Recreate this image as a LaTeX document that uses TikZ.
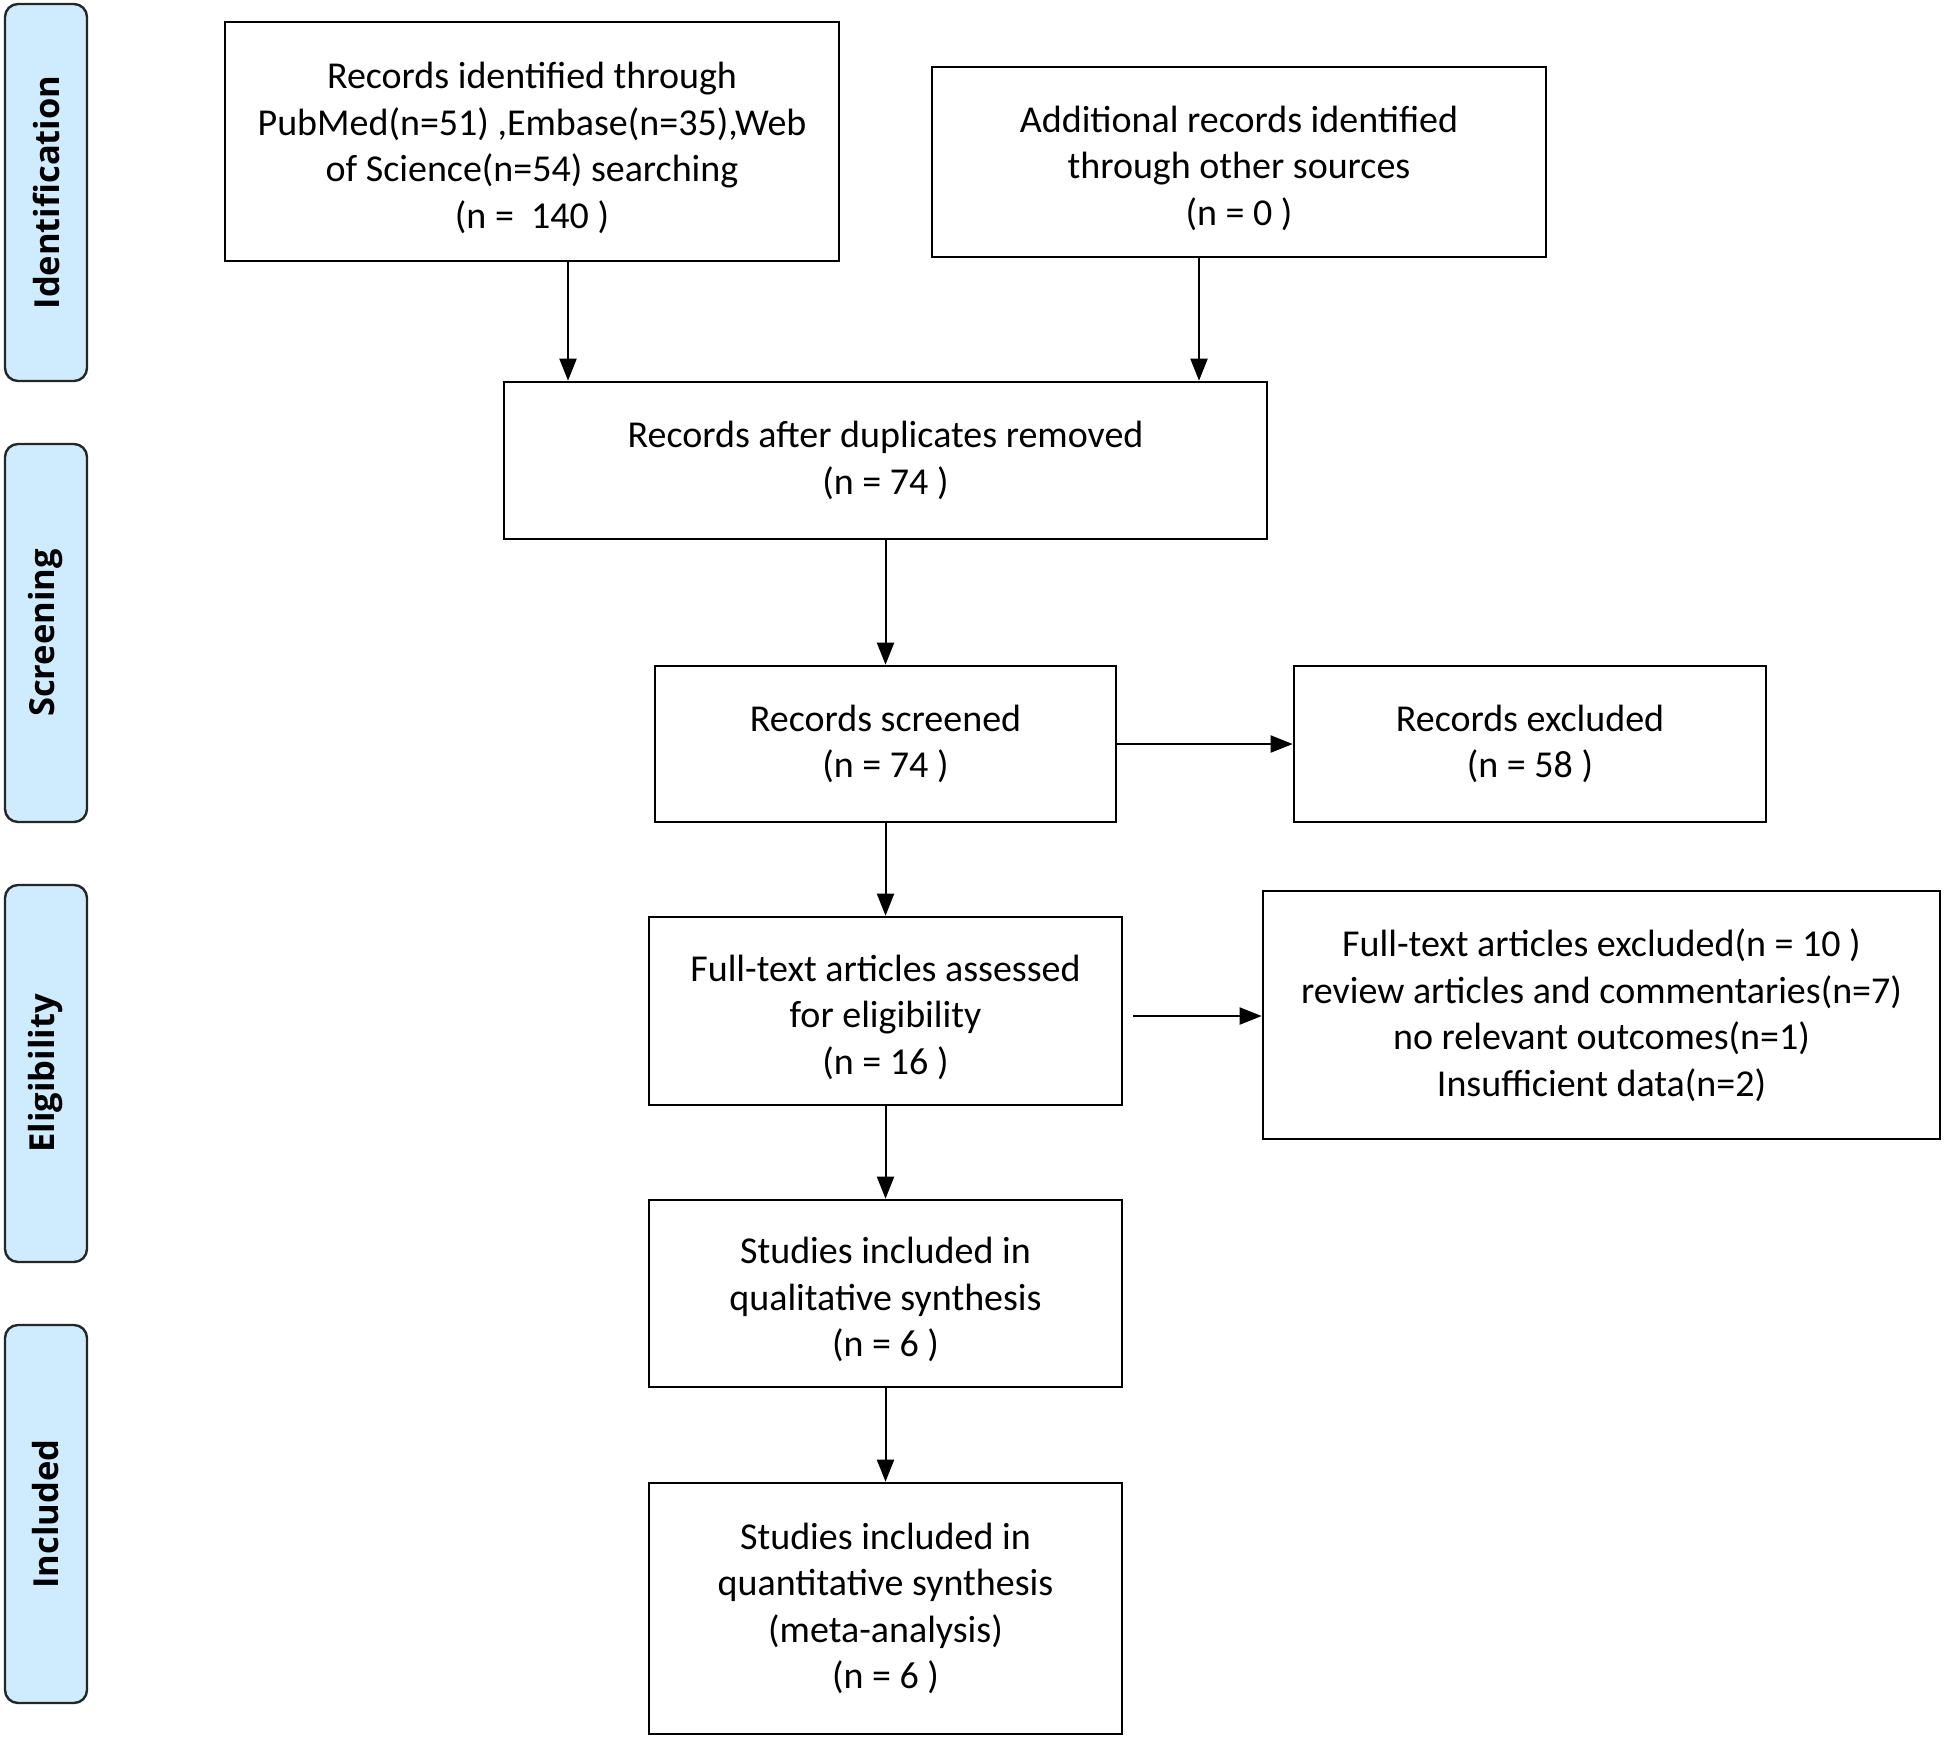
\documentclass[tikz,border=0pt]{standalone}
\usepackage{fontspec}
\setmainfont{Carlito}
\newfontfamily\sidefont{Open Sans}
\usetikzlibrary{arrows.meta}
\definecolor{barblue}{RGB}{206,236,254}
\newcommand\dnstrut{\rule{0pt}{39pt}}
\begin{document}
\begin{tikzpicture}[x=1pt,y=-1pt,
  box/.style={draw=black,line width=2.6pt,fill=white,align=center,inner sep=0pt,
    font=\fontsize{38}{46.5}\selectfont},
  bar/.style={draw=black!85,line width=2.4pt,fill=barblue,rounded corners=13pt,rotate=90,
    minimum height=82pt,inner sep=0pt,font=\sidefont\bfseries\fontsize{34.5}{40}\selectfont},
  arr/.style={line width=2pt,-{Triangle[length=22pt,width=17pt]}}]
\useasboundingbox (0,0) rectangle (1946,1740);
\fill[white] (0,0) rectangle (1946,1740);

% phase bars
\node[bar,minimum width=377pt] (pid) at (46,192.5) {Identification};
\node[bar,minimum width=378pt] (psc) at (46,633) {Screening};
\node[bar,minimum width=377pt] (pel) at (46,1073.5) {Eligibility};
\node[bar,minimum width=378pt] (pin) at (46,1514) {Included};

% boxes
\node[box,minimum width=614pt,minimum height=239pt] (b1) at (532,141.5)
  {\dnstrut Records identified through\\PubMed(n=51) ,Embase(n=35),Web\\of Science(n=54) searching\\(n =\ \ 140 )};
\node[box,minimum width=614pt,minimum height=190pt] (b2) at (1239,162)
  {\dnstrut Additional records identified\\through other sources\\(n = 0 )};
\node[box,minimum width=763pt,minimum height=157pt] (b3) at (885.5,460.5)
  {Records after duplicates removed\\(n = 74 )};
\node[box,minimum width=461pt,minimum height=156pt] (b4) at (885.5,744)
  {Records screened\\(n = 74 )};
\node[box,minimum width=472pt,minimum height=156pt] (b5) at (1530,744)
  {Records excluded\\(n = 58 )};
\node[box,minimum width=473pt,minimum height=188pt] (b6) at (885.5,1011)
  {\dnstrut Full-text articles assessed\\for eligibility\\(n = 16 )};
\node[box,minimum width=677pt,minimum height=248pt] (b7) at (1601.5,1015)
  {Full-text articles excluded(n = 10 )\\review articles and commentaries(n=7)\\no relevant outcomes(n=1)\\Insufficient data(n=2)};
\node[box,minimum width=473pt,minimum height=187pt] (b8) at (885.5,1293.5)
  {\dnstrut Studies included in\\qualitative synthesis\\(n = 6 )};
\node[box,minimum width=473pt,minimum height=251pt] (b9) at (885.5,1608.5)
  {Studies included in\\quantitative synthesis\\(meta-analysis)\\(n = 6 )};

% connectors
\coordinate (xa) at (568,0);
\coordinate (xb) at (1199,0);
\draw[arr] (b1.south -| xa) -- (b3.north -| xa);
\draw[arr] (b2.south -| xb) -- (b3.north -| xb);
\draw[arr] (b3.south) -- (b4.north);
\draw[arr] (b4.east) -- (b5.west);
\draw[arr] (b4.south) -- (b6.north);
\coordinate (ya) at (0,1016);
\draw[arr,shorten <=10pt] (b6.east |- ya) -- (b7.west |- ya);
\draw[arr] (b6.south) -- (b8.north);
\draw[arr] (b8.south) -- (b9.north);
\end{tikzpicture}
\end{document}
